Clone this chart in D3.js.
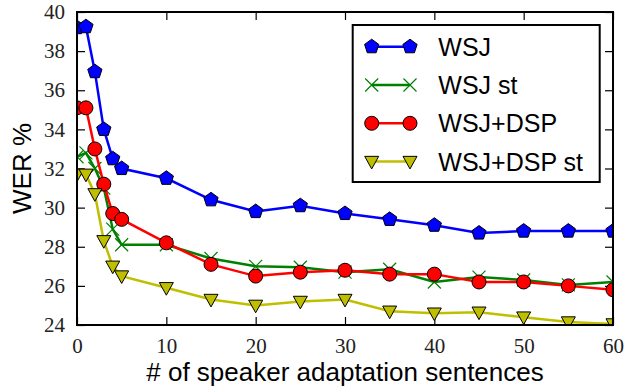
<!DOCTYPE html>
<html>
<head>
<meta charset="utf-8">
<script src="https://cdn.jsdelivr.net/npm/d3@7"></script>
<style>
  body { margin: 0; background: #fff; }
</style>
</head>
<body>
<svg id="chart"></svg>
<script>
// number of adaptation sentences
var sentences = [0, 1, 2, 3, 4, 5, 10, 15, 20, 25, 30, 35, 40, 45, 50, 55, 60];

// WER values
var wsj      = [39.2, 39.25, 36.95, 34.0, 32.5, 32.0, 31.5, 30.4, 29.8, 30.1, 29.7, 29.4, 29.1, 28.7, 28.8, 28.8, 28.8];
var wsjSt    = [32.6, 32.8, 32.0, 31.0, 28.9, 28.1, 28.1, 27.4, 27.0, 26.95, 26.7, 26.85, 26.2, 26.45, 26.3, 26.05, 26.2];
var wsjDsp   = [35.1, 35.1, 33.0, 31.2, 29.7, 29.4, 28.2, 27.1, 26.5, 26.7, 26.8, 26.6, 26.6, 26.2, 26.2, 26.0, 25.8];
var wsjDspSt = [31.7, 31.7, 30.7, 28.3, 27.0, 26.5, 25.9, 25.3, 25.0, 25.2, 25.3, 24.7, 24.6, 24.65, 24.4, 24.15, 24.05];

var seriesNames = ["WSJ", "WSJ st", "WSJ+DSP", "WSJ+DSP st"];
var xTicks = [0, 10, 20, 30, 40, 50, 60];
var yTicks = [24, 26, 28, 30, 32, 34, 36, 38, 40];

var width = 624, height = 389;
var margin = {top: 12, right: 11, bottom: 64, left: 77};
var w = width - margin.left - margin.right;
var h = height - margin.top - margin.bottom;

var x = d3.scaleLinear().domain([0, 60]).range([0, w]);
var y = d3.scaleLinear().domain([24, 40]).range([h, 0]);

var sansFont = "'Liberation Sans', Arial, sans-serif";
var serifFont = "'Liberation Serif', 'Times New Roman', serif";

// marker shapes, r is roughly the outer radius
function pentagon(r) {
    var pts = [];
    for (var i = 0; i < 5; i++) {
        var a = -Math.PI / 2 + i * 2 * Math.PI / 5;
        pts.push([r * Math.cos(a), r * Math.sin(a)]);
    }
    return "M" + pts.join("L") + "Z";
}
function circle(r) {
    return "M" + r + ",0A" + r + "," + r + " 0 1,1 " + (-r) + ",0A" + r + "," + r + " 0 1,1 " + r + ",0Z";
}
function triDown(r) {
    return "M" + (-r) + "," + (-r * 0.75) + "L" + r + "," + (-r * 0.75) + "L0," + (r * 1.05) + "Z";
}
function cross(r) {
    return "M" + (-r) + "," + (-r) + "L" + r + "," + r + "M" + (-r) + "," + r + "L" + r + "," + (-r);
}

var series = [
    {name: seriesNames[0], values: wsj,      color: "#0000ff", marker: pentagon(7.5), filled: true},
    {name: seriesNames[1], values: wsjSt,    color: "#008000", marker: cross(6.5),    filled: false},
    {name: seriesNames[2], values: wsjDsp,   color: "#ff0000", marker: circle(7),     filled: true},
    {name: seriesNames[3], values: wsjDspSt, color: "#bfbf00", marker: triDown(7),    filled: true}
];

var svg = d3.select("#chart")
    .attr("width", width)
    .attr("height", height);

var chart = svg.append("g")
    .attr("transform", "translate(" + margin.left + "," + margin.top + ")");

chart.append("clipPath")
    .attr("id", "clip")
    .append("rect")
    .attr("width", w)
    .attr("height", h);

// axes with inward ticks on all four sides
var tick = 8;
function noDomain(g) { g.select(".domain").remove(); }

chart.append("g")
    .attr("transform", "translate(0," + h + ")")
    .call(d3.axisBottom(x).tickValues(xTicks).tickSizeInner(-tick).tickSizeOuter(0).tickPadding(13))
    .call(noDomain);
chart.append("g")
    .call(d3.axisTop(x).tickValues(xTicks).tickSizeInner(-tick).tickSizeOuter(0).tickFormat(""))
    .call(noDomain);
chart.append("g")
    .call(d3.axisLeft(y).tickValues(yTicks).tickSizeInner(-tick).tickSizeOuter(0).tickPadding(12))
    .call(noDomain);
chart.append("g")
    .attr("transform", "translate(" + w + ",0)")
    .call(d3.axisRight(y).tickValues(yTicks).tickSizeInner(-tick).tickSizeOuter(0).tickFormat(""))
    .call(noDomain);
chart.selectAll(".tick line").attr("stroke", "#000").attr("stroke-width", 1.2);
chart.selectAll(".tick text")
    .style("font-family", serifFont)
    .style("font-size", "21px")
    .style("fill", "#222");

var line = d3.line()
    .x(function (d) { return x(d[0]); })
    .y(function (d) { return y(d[1]); });

var plot = chart.append("g").attr("clip-path", "url(#clip)");

series.forEach(function (s) {
    var pts = sentences.map(function (v, i) { return [v, s.values[i]]; });
    var g = plot.append("g");
    g.append("path")
        .attr("d", line(pts))
        .attr("fill", "none")
        .attr("stroke", s.color)
        .attr("stroke-width", 2.5);
    g.selectAll(".mark")
        .data(pts)
        .enter()
        .append("path")
        .attr("class", "mark")
        .attr("transform", function (d) { return "translate(" + x(d[0]) + "," + y(d[1]) + ")"; })
        .attr("d", s.marker)
        .attr("fill", s.filled ? s.color : "none")
        .attr("stroke", s.filled ? "#000" : s.color)
        .attr("stroke-width", s.filled ? 1 : 1.2);
});

// frame
chart.append("rect")
    .attr("width", w)
    .attr("height", h)
    .attr("fill", "none")
    .attr("stroke", "#000")
    .attr("stroke-width", 2);

// legend
var legend = chart.append("g")
    .attr("transform", "translate(" + (352.7 - margin.left) + "," + (25 - margin.top) + ")");
legend.append("rect")
    .attr("width", 247)
    .attr("height", 157)
    .attr("fill", "#fff")
    .attr("stroke", "#000")
    .attr("stroke-width", 2);

var items = legend.selectAll(".item")
    .data(series)
    .enter()
    .append("g")
    .attr("class", "item")
    .attr("transform", function (d, i) { return "translate(0," + (21.7 + i * 38.3) + ")"; });
items.append("line")
    .attr("x1", 19).attr("x2", 57.3)
    .attr("stroke", function (d) { return d.color; })
    .attr("stroke-width", 2.5);
[19, 57.3].forEach(function (px) {
    items.append("path")
        .attr("transform", "translate(" + px + ",0)")
        .attr("d", function (d) { return d.marker; })
        .attr("fill", function (d) { return d.filled ? d.color : "none"; })
        .attr("stroke", function (d) { return d.filled ? "#000" : d.color; })
        .attr("stroke-width", function (d) { return d.filled ? 1 : 1.2; });
});
items.append("text")
    .attr("x", 85.6)
    .attr("dy", "0.36em")
    .style("font-family", sansFont)
    .style("font-size", "25px")
    .text(function (d) { return d.name; });

// axis titles
svg.append("text")
    .attr("x", margin.left + w / 2)
    .attr("y", 381)
    .attr("text-anchor", "middle")
    .style("font-family", sansFont)
    .style("font-size", "26px")
    .text("# of speaker adaptation sentences");

svg.append("text")
    .attr("transform", "translate(31," + (margin.top + h / 2) + ") rotate(-90)")
    .attr("text-anchor", "middle")
    .style("font-family", sansFont)
    .style("font-size", "26px")
    .text("WER %");
</script>
</body>
</html>
